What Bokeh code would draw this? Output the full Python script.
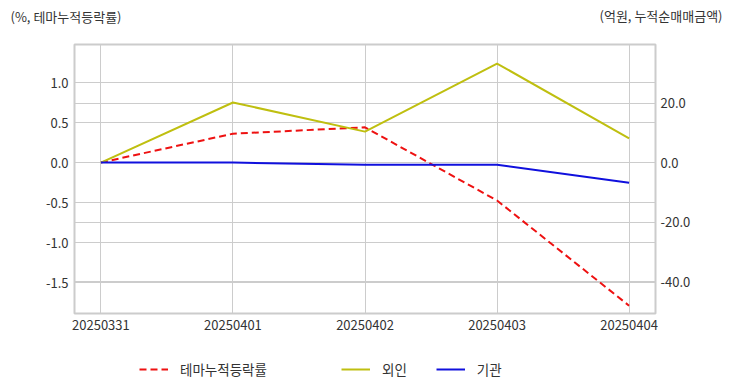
from bokeh.plotting import figure
from bokeh.layouts import column
from bokeh.models import Range1d, LinearAxis, Legend, LegendItem, Label, FixedTicker, NumeralTickFormatter, CustomJSTickFormatter, Grid
from bokeh.embed import file_html
from bokeh.resources import INLINE

dates = ["20250331", "20250401", "20250402", "20250403", "20250404"]
theme_rate = [0.0, 0.36, 0.44, -0.475, -1.79]
foreign = [0.0, 20.2, 10.4, 33.3, 8.1]
institution = [0.0, 0.0, -0.7, -0.7, -6.8]
left_ticks = [-1.5, -1.0, -0.5, 0.0, 0.5, 1.0]
right_ticks = [-40, -20, 0, 20]

FONT = "Noto Sans CJK KR"
TXT = "#333333"
GRID = "#cccccc"
RED, YEL, BLU = "#ee1111", "#bfbf10", "#1010dd"
DASH = "7 4"

xs = list(range(len(dates)))

p = figure(width=732, height=345, output_backend="svg", toolbar_location=None,
           x_range=Range1d(-0.2, 4.2), y_range=Range1d(-1.8875, 1.475),
           min_border_left=74, min_border_right=77, min_border_top=44, min_border_bottom=32)
p.extra_y_ranges = {"amt": Range1d(-50.75, 39.7)}

p.outline_line_color = GRID
p.outline_line_width = 2
p.background_fill_color = "white"
p.border_fill_color = "white"

def style_axis(ax, standoff):
    ax.axis_line_color = None
    ax.major_tick_line_color = None
    ax.minor_tick_line_color = None
    ax.major_tick_out = 0
    ax.major_tick_in = 0
    ax.minor_tick_out = 0
    ax.major_label_text_font = FONT
    ax.major_label_text_font_size = "13px"
    ax.major_label_text_color = TXT
    ax.major_label_standoff = standoff

ya = p.yaxis[0]
ya.ticker = FixedTicker(ticks=left_ticks)
ya.formatter = NumeralTickFormatter(format="0.0")
style_axis(ya, 6)

ra = LinearAxis(y_range_name="amt", ticker=FixedTicker(ticks=right_ticks),
                formatter=NumeralTickFormatter(format="0.0"))
style_axis(ra, 5)
p.add_layout(ra, "right")

xa = p.xaxis[0]
xa.ticker = FixedTicker(ticks=xs)
xa.formatter = CustomJSTickFormatter(args=dict(labels=dates), code="return labels[Math.round(tick)] || '';")
style_axis(xa, 6)

p.xgrid.grid_line_color = GRID
p.ygrid.grid_line_color = GRID
p.add_layout(Grid(dimension=1, ticker=ra.ticker, y_range_name="amt", grid_line_color=GRID))

p.line(xs, theme_rate, line_color=RED, line_width=2, line_dash=DASH)
p.line(xs, foreign, line_color=YEL, line_width=2, y_range_name="amt")
p.line(xs, institution, line_color=BLU, line_width=2, y_range_name="amt")

t1 = Label(x=10 - 74, y=28, x_units="screen", y_units="screen", text="(%, 테마누적등락률)",
           text_font=FONT, text_font_size="13px", text_color=TXT, text_baseline="middle", text_align="left")
t2 = Label(x=722 - 74, y=10, x_units="screen", y_units="screen", text="(억원, 누적순매매금액)",
           text_font=FONT, text_font_size="13px", text_color=TXT, text_baseline="middle", text_align="right")
p.add_layout(t1, "above")
p.add_layout(t2, "above")

# legend strip (its frame is aligned with the main plot's frame by the column layout)
q = figure(width=732, height=47, output_backend="svg", toolbar_location=None,
           x_range=Range1d(0, 1), y_range=Range1d(0, 1),
           x_axis_location=None, y_axis_location=None, min_border=0)
q.grid.visible = False
q.outline_line_color = None
q.border_fill_color = "white"
off = [2, 3]
lr1 = q.line(off, off, line_color=RED, line_width=2, line_dash=DASH)
lr2 = q.line(off, off, line_color=YEL, line_width=2)
lr3 = q.line(off, off, line_color=BLU, line_width=2)

def mk_legend(items, loc):
    return Legend(items=items, location=loc, orientation="horizontal",
                  label_text_font=FONT, label_text_font_size="13.5px", label_text_color=TXT,
                  glyph_width=29, glyph_height=20, label_standoff=12, spacing=29, padding=0, margin=0,
                  border_line_color=None, background_fill_alpha=0)

q.add_layout(mk_legend([LegendItem(label="테마누적등락률", renderers=[lr1])], (139 - 74, 13)))
q.add_layout(mk_legend([LegendItem(label="외인", renderers=[lr2]),
                        LegendItem(label="기관", renderers=[lr3])], (341 - 74, 13)))

open("out.html", "w").write(file_html(column(p, q), INLINE))
